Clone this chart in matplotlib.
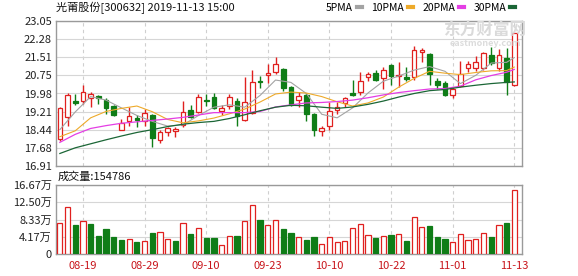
import matplotlib
matplotlib.use("Agg")
import matplotlib.pyplot as plt
from matplotlib.lines import Line2D

plt.rcParams['font.family'] = ['Noto Sans CJK SC', 'DejaVu Sans']

# daily K-line data, 2019-08-14 .. 2019-11-13
opens = [18.05, 18.97, 19.67, 19.66, 19.77, 19.86, 19.72, 19.45, 18.45, 18.80,
         18.93, 18.80, 19.07, 18.02, 18.33, 18.38, 18.65, 19.28, 19.21, 19.72,
         19.85, 19.22, 19.47, 19.68, 18.85, 19.15, 20.53, 20.76, 20.88, 21.00,
         20.27, 19.70, 19.91, 19.10, 18.40, 18.60, 19.28, 19.56, 19.99, 20.03,
         20.66, 20.83, 20.65, 21.19, 20.70, 20.67, 20.69, 21.72, 21.64, 20.51,
         20.41, 19.91, 20.31, 21.05, 21.05, 21.07, 21.61, 21.05, 21.47, 20.34]
closes = [19.38, 19.91, 19.58, 20.05, 19.96, 19.80, 19.35, 19.07, 18.72, 19.03,
          18.87, 19.16, 18.08, 18.33, 18.50, 18.47, 19.18, 19.00, 19.84, 19.65,
          19.37, 19.38, 19.82, 19.02, 19.62, 20.48, 20.45, 20.84, 21.22, 20.22,
          19.49, 19.87, 19.10, 18.43, 18.53, 19.24, 19.42, 19.77, 19.90, 20.52,
          20.80, 20.55, 20.97, 20.73, 20.76, 20.58, 21.82, 21.83, 20.79, 20.34,
          19.92, 20.17, 20.79, 21.22, 21.30, 21.68, 21.26, 21.61, 20.48, 22.53]
highs = [19.40, 20.02, 19.94, 20.34, 20.05, 19.93, 19.80, 19.50, 18.88, 19.39,
         19.07, 19.31, 19.12, 18.43, 18.58, 18.58, 19.66, 19.49, 19.95, 19.96,
         20.00, 19.49, 19.94, 19.80, 20.69, 20.97, 20.72, 21.22, 21.51, 21.05,
         20.30, 20.03, 20.00, 19.15, 18.60, 19.63, 19.60, 19.84, 20.55, 20.88,
         20.91, 20.96, 21.11, 21.22, 21.33, 21.10, 21.99, 21.90, 21.68, 20.63,
         20.53, 20.27, 21.36, 21.36, 21.57, 21.72, 21.96, 21.85, 21.89, 22.55]
lows = [17.98, 18.60, 19.49, 19.52, 19.40, 19.55, 19.12, 19.02, 18.42, 18.60,
        18.57, 18.60, 17.72, 17.87, 18.20, 18.15, 18.55, 18.95, 19.15, 19.45,
        19.32, 19.05, 19.31, 18.62, 18.80, 19.10, 20.20, 20.41, 20.80, 20.10,
        19.45, 19.41, 18.80, 18.19, 18.20, 18.43, 19.13, 19.42, 19.86, 19.91,
        20.51, 20.50, 20.17, 20.34, 20.27, 20.50, 20.55, 21.33, 20.34, 20.17,
        19.86, 19.77, 20.25, 20.88, 20.95, 20.98, 21.20, 20.95, 19.91, 20.30]
# volume in 万手
volumes = [7.56, 11.43, 7.00, 7.97, 7.25, 4.35, 6.04, 4.10, 3.38, 3.62,
           2.90, 3.14, 5.07, 5.31, 3.62, 3.14, 7.49, 4.83, 6.28, 3.86,
           3.86, 2.17, 4.35, 4.35, 7.97, 11.84, 8.21, 7.00, 8.21, 6.04,
           5.00, 4.03, 3.38, 4.03, 2.42, 4.03, 2.90, 3.10, 6.20, 7.17,
           4.60, 3.78, 4.27, 4.60, 4.75, 3.10, 8.86, 6.44, 6.76, 4.19,
           3.70, 2.90, 4.83, 3.38, 3.70, 5.07, 4.19, 7.00, 7.56, 15.48]

# moving averages (bar index, value)
ma_days = [0, 2, 4, 6, 8, 10, 12, 14, 16, 18, 20, 22, 24, 26, 28, 30,
           32, 34, 36, 38, 40, 42, 44, 46, 48, 50, 52, 54, 56, 58, 59]
ma5 = [18.45, 19.20, 19.85, 19.70, 19.37, 19.05, 18.80, 18.60, 18.65, 19.05, 19.40,
       19.50, 19.40, 19.90, 20.55, 20.45, 19.98, 19.10, 18.95, 19.37, 20.00,
       20.50, 20.72, 20.97, 21.12, 20.92, 20.40, 20.75, 21.27, 21.30, 21.50]
ma10 = [18.15, 18.40, 18.95, 19.22, 19.35, 19.45, 19.21, 18.88, 18.74, 18.82, 18.94,
        19.12, 19.32, 19.62, 19.96, 20.04, 20.00, 19.85, 19.63, 19.45, 19.58,
        19.83, 20.25, 20.62, 20.92, 20.84, 20.78, 20.87, 20.94, 20.95, 21.10]
ma20 = [17.91, 18.25, 18.50, 18.62, 18.72, 18.78, 18.84, 18.90, 18.97, 19.07, 19.17,
        19.17, 19.17, 19.22, 19.41, 19.50, 19.58, 19.60, 19.64, 19.70, 19.80,
        19.92, 20.02, 20.10, 20.17, 20.19, 20.29, 20.56, 20.74, 20.88, 21.00]
ma30 = [17.44, 17.68, 17.85, 18.02, 18.18, 18.33, 18.45, 18.58, 18.68, 18.75, 18.80,
        18.92, 19.08, 19.25, 19.40, 19.48, 19.46, 19.40, 19.35, 19.41, 19.52,
        19.66, 19.83, 19.98, 20.10, 20.15, 20.25, 20.33, 20.40, 20.45, 20.47]

date_pos = [3, 11, 19, 27, 35, 43, 51, 59]
date_labels = ['08-19', '08-29', '09-10', '09-23', '10-10', '10-22', '11-01', '11-13']
price_ticks = [16.91, 17.68, 18.44, 19.21, 19.98, 20.75, 21.51, 22.28, 23.05]
vol_ticks = [0, 4.17, 8.33, 12.50, 16.67]
vol_tick_labels = ['0', '4.17万', '8.33万', '12.50万', '16.67万']

RED = '#e0201f'
GREEN = '#0f7d17'
BORDER = '#9a9a9a'
GRID = '#d6d6d6'

W, H = 578, 276
fig = plt.figure(figsize=(W / 100, H / 100), dpi=100)


def box(x0, y0, x1, y1):
    return [x0 / W, 1 - y1 / H, (x1 - x0) / W, (y1 - y0) / H]


ax = fig.add_axes(box(56, 21, 522, 166))
axv = fig.add_axes(box(56, 185, 522, 254))

n = len(closes)
idx = list(range(n))

for a in (ax, axv):
    a.set_xlim(-0.5, 60.0)
    for s in a.spines.values():
        s.set_color(BORDER)
        s.set_linewidth(1.0)
    a.tick_params(length=0, labelsize=8, colors='#222222', pad=3)
    for p in date_pos:
        a.axvline(p, color='#cfcfcf', lw=0.8, ls=(0, (3, 3)), zorder=0)

# candles
for i in idx:
    o, c, h, l = opens[i], closes[i], highs[i], lows[i]
    up = c >= o
    col = RED if up else GREEN
    lo_b, hi_b = min(o, c), max(o, c)
    ax.vlines(i, hi_b, h, color=col, lw=1.0, zorder=3)
    ax.vlines(i, l, lo_b, color=col, lw=1.0, zorder=3)
    ax.bar(i, max(hi_b - lo_b, 0.012), bottom=lo_b, width=0.6,
           facecolor='white' if up else col, edgecolor=col, lw=0.9, zorder=4)

ax.plot(ma_days, ma5, color='#a3a3a3', lw=0.8, zorder=5)
ax.plot(ma_days, ma10, color='#eeaa2a', lw=0.8, zorder=5)
ax.plot(ma_days, ma20, color='#e43ee4', lw=0.9, zorder=5)
ax.plot(ma_days, ma30, color='#1b6636', lw=0.9, zorder=5)

ax.set_ylim(price_ticks[0], price_ticks[-1])
ax.set_yticks(price_ticks)
ax.set_yticklabels(['%.2f' % t for t in price_ticks])
ax.set_xticks([])
ax.yaxis.grid(True, color=GRID, lw=0.8)
ax.set_axisbelow(True)

# volume
for i in idx:
    up = closes[i] >= closes[i - 1] if i > 0 else True
    col = RED if up else GREEN
    axv.bar(i, volumes[i], width=0.68, facecolor='white' if up else col,
            edgecolor=col, lw=0.9, zorder=3)

axv.set_ylim(0, vol_ticks[-1])
axv.set_yticks(vol_ticks)
axv.set_yticklabels(vol_tick_labels)
axv.yaxis.grid(True, color=GRID, lw=0.8)
axv.set_axisbelow(True)
axv.set_xticks(date_pos)
axv.set_xticklabels(date_labels, color='#c8151b', fontsize=8)
axv.tick_params(axis='x', pad=5)

# header texts
fig.text(56 / W, 1 - 8 / H, '光莆股份[300632] 2019-11-13 15:00', fontsize=8,
         va='center', ha='left', color='#111111')
fig.text(58 / W, 1 - 177 / H, '成交量:154786', fontsize=8, va='center',
         ha='left', color='#111111')

# watermark
fig.text(485 / W, 1 - 31 / H, '东方财富网', fontsize=12, fontweight='bold',
         color='#dadada', ha='center', va='center', zorder=0)
fig.text(485 / W, 1 - 44 / H, 'eastmoney.com', fontsize=6.5, fontweight='bold',
         color='#dcdcdc', ha='center', va='center', zorder=0)

handles = [Line2D([], [], color=c, lw=3) for c in
           ['#a3a3a3', '#eeaa2a', '#e43ee4', '#1b6636']]
leg = ax.legend(handles, ['5PMA', '10PMA', '20PMA', '30PMA'], ncol=4,
                markerfirst=False, frameon=False, fontsize=7.5,
                handlelength=0.5, handletextpad=0.35, columnspacing=0.9,
                loc='center right', bbox_to_anchor=(0.985, 1 + 13 / 145),
                borderaxespad=0, borderpad=0)

fig.savefig('out.png', dpi=100)
